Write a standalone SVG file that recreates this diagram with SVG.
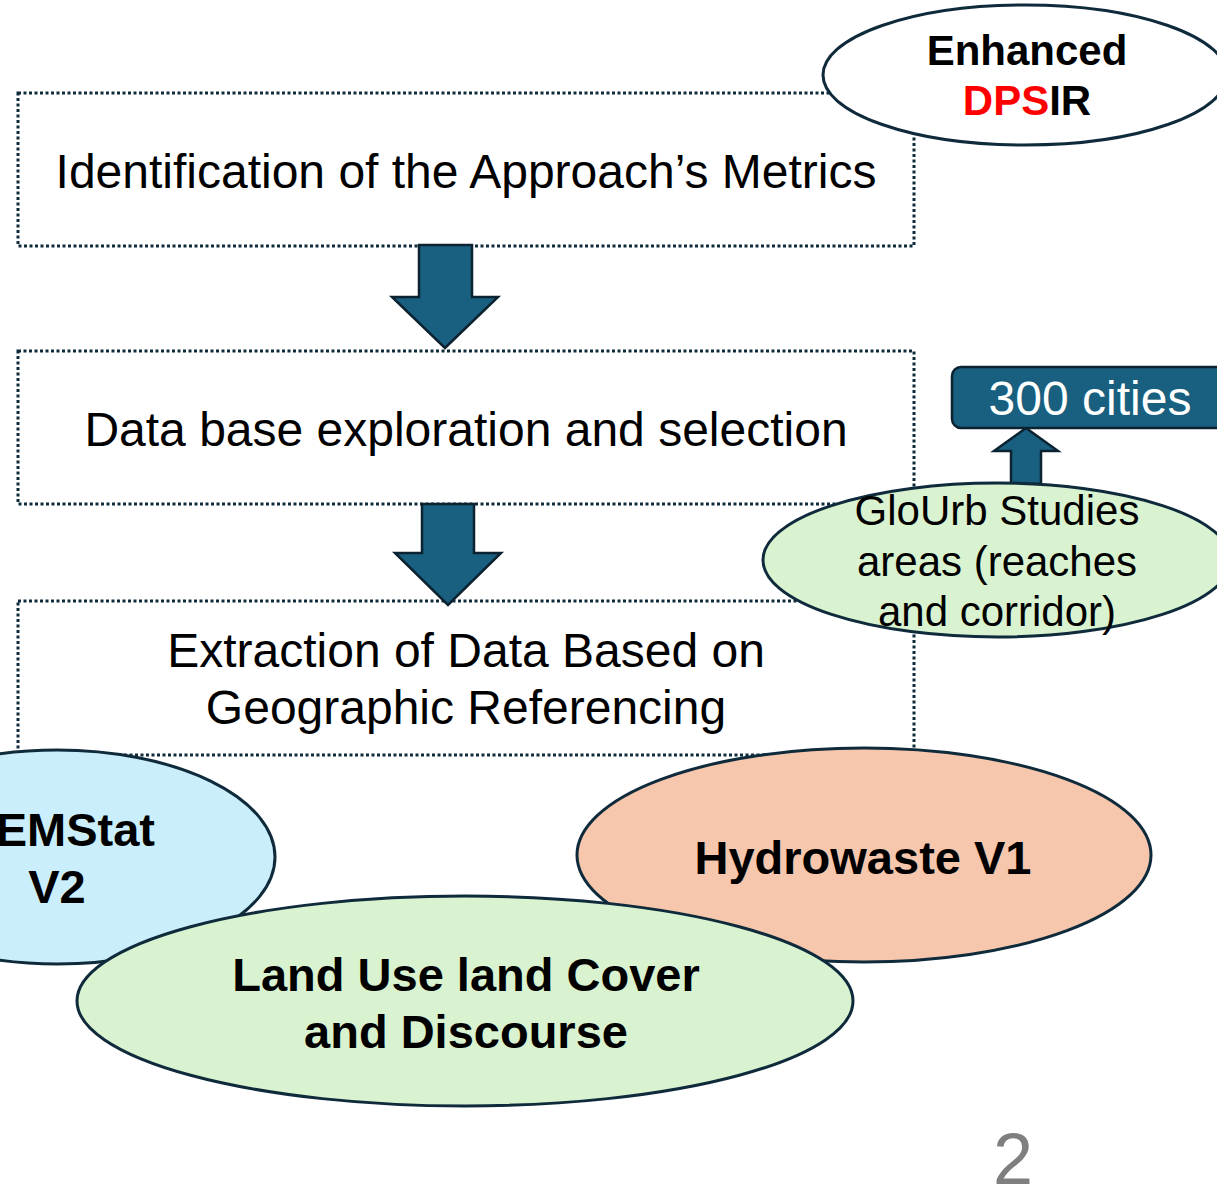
<svg xmlns="http://www.w3.org/2000/svg" width="1217" height="1189" viewBox="0 0 1217 1189">
<style>
.box{fill:#fff;stroke:#0e2a3b;stroke-width:3;stroke-dasharray:3 2.5}
.arr{fill:#185f80;stroke:#0b2230;stroke-width:2.5;stroke-linejoin:miter}
.ell{stroke:#0e2a3b;stroke-width:3}
.t{font-family:"Liberation Sans",Arial,sans-serif;font-size:48px;fill:#000;text-anchor:middle}
.b{font-family:"Liberation Sans",Arial,sans-serif;font-size:47px;font-weight:bold;fill:#000;text-anchor:middle}
</style>
<rect width="1217" height="1189" fill="#fff"/>
<g id="box1"><rect class="box" x="18" y="93" width="896" height="153"/>
<text class="t" x="466" y="188">Identification of the Approach’s Metrics</text></g>
<g id="box2"><rect class="box" x="18" y="351" width="896" height="153"/>
<text class="t" x="466" y="446">Data base exploration and selection</text></g>
<g id="box3"><rect class="box" x="18" y="601" width="896" height="154"/>
<text class="t" x="466" y="667">Extraction of Data Based on</text>
<text class="t" x="466" y="724">Geographic Referencing</text></g>
<g id="connectors">
<path class="arr" d="M419 245 H472 V297 H498 L445 348 L392 297 H419 Z"/>
<path class="arr" d="M422 504 H474 V553 H501 L448 605 L395 553 H422 Z"/>
<path class="arr" d="M1011 484 V451 H994 L1026 428 L1058 451 H1041 V484 Z"/>
</g>
<g id="enhanced"><ellipse class="ell" cx="1025" cy="75" rx="202" ry="70" fill="#fff"/>
<text class="b" x="1027" y="65" style="font-size:42px">Enhanced</text>
<text class="b" x="1027" y="115" style="font-size:42px"><tspan fill="#ff0000">DPS</tspan>IR</text></g>
<g id="cities"><rect x="952" y="367" width="290" height="61" rx="9" fill="#185f80" stroke="#0b2230" stroke-width="2.5"/>
<text class="t" x="1090" y="415" style="fill:#fff">300 cities</text></g>
<g id="glourb"><ellipse class="ell" cx="997" cy="560" rx="234" ry="77" fill="#d9f2d0"/>
<text class="t" x="997" y="525" style="font-size:42px">GloUrb Studies</text>
<text class="t" x="997" y="576" style="font-size:42px">areas (reaches</text>
<text class="t" x="997" y="626" style="font-size:42px">and corridor)</text></g>
<g id="emstat"><ellipse class="ell" cx="57" cy="857" rx="218" ry="107" fill="#caeefb"/>
<text class="b" x="155" y="846" style="text-anchor:end">EMStat</text>
<text class="b" x="57" y="903">V2</text></g>
<g id="hydrowaste"><ellipse class="ell" cx="864" cy="855" rx="287" ry="107" fill="#f6c6ad"/>
<text class="b" x="863" y="874">Hydrowaste V1</text></g>
<g id="landuse"><ellipse class="ell" cx="465" cy="1001" rx="388" ry="105" fill="#d9f2d0"/>
<text class="b" x="466" y="991">Land Use land Cover</text>
<text class="b" x="466" y="1048">and Discourse</text></g>
<text x="1013" y="1184" style="font-family:'Liberation Sans',Arial,sans-serif;font-size:72px;fill:#7f7f7f;text-anchor:middle">2</text>
</svg>
